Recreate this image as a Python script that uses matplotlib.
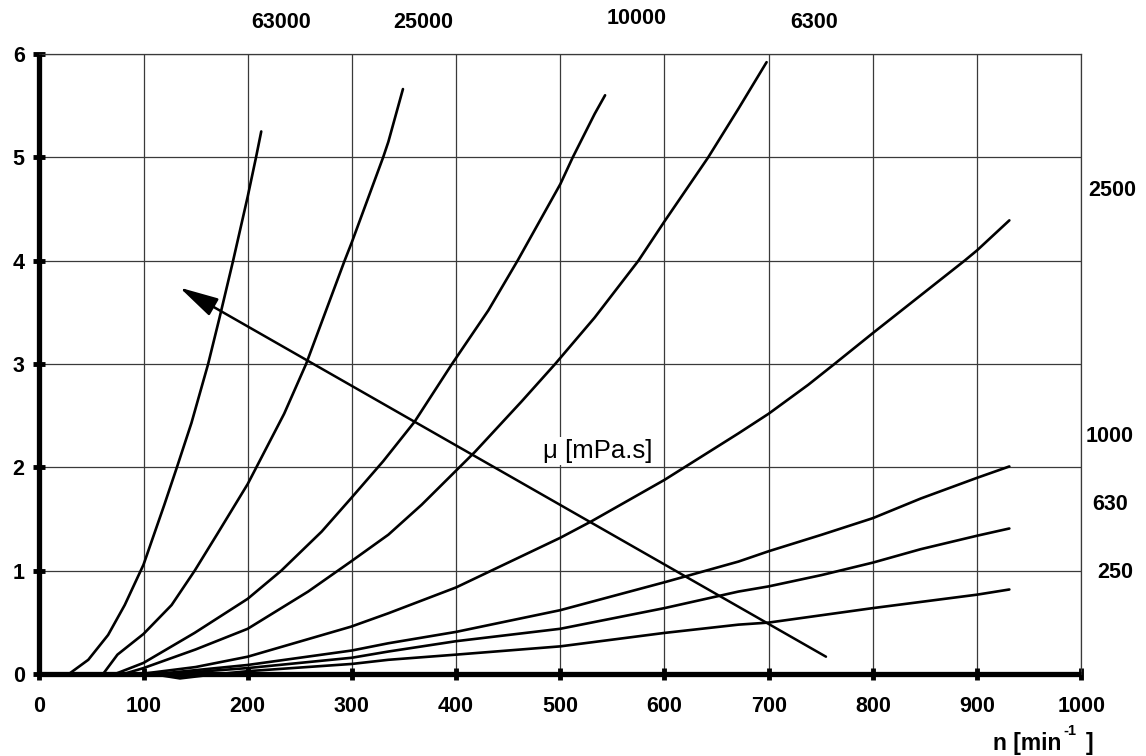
import numpy as np
from matplotlib import pyplot as plt

plt.rcParams['font.family'] = ['Liberation Sans', 'DejaVu Sans']

# speed n [min-1] and reading for each viscosity
n_63000 = [28, 47, 66, 82, 100, 120, 132, 146, 162, 173, 186, 200, 208, 213]
p_63000 = [0, 0.14, 0.38, 0.67, 1.06, 1.64, 2.0, 2.43, 3.0, 3.45, 4.0, 4.62, 5.0, 5.25]

n_25000 = [61, 75, 100, 127, 149, 171, 200, 235, 256, 293, 300, 330, 335, 349]
p_25000 = [0, 0.19, 0.39, 0.67, 1.0, 1.36, 1.84, 2.52, 3.0, 4.0, 4.18, 5.0, 5.15, 5.66]

n_10000 = [72, 100, 149, 200, 232, 271, 299, 330, 360, 396, 431, 459, 500, 512, 533, 543]
p_10000 = [0, 0.11, 0.40, 0.73, 1.0, 1.38, 1.70, 2.06, 2.44, 3.0, 3.52, 4.0, 4.74, 5.0, 5.42, 5.6]

n_6300 = [80, 100, 150, 200, 258, 299, 335, 367, 400, 418, 463, 495, 533, 575, 600, 642, 671, 698]
p_6300 = [0, 0.06, 0.24, 0.44, 0.80, 1.09, 1.35, 1.64, 1.97, 2.15, 2.64, 3.0, 3.45, 4.0, 4.38, 5.0, 5.47, 5.92]

n_2500 = [95, 150, 200, 299, 335, 400, 500, 530, 600, 671, 700, 738, 763, 800, 888, 900, 931]
p_2500 = [0, 0.07, 0.17, 0.46, 0.59, 0.84, 1.32, 1.48, 1.88, 2.33, 2.52, 2.80, 3.0, 3.30, 4.0, 4.10, 4.39]

n_1000 = [110, 200, 300, 335, 400, 500, 600, 671, 700, 751, 800, 846, 900, 931]
p_1000 = [0, 0.09, 0.23, 0.30, 0.41, 0.62, 0.89, 1.09, 1.19, 1.35, 1.51, 1.70, 1.90, 2.01]

n_630 = [120, 200, 300, 335, 400, 500, 600, 671, 700, 751, 800, 846, 900, 931]
p_630 = [0, 0.06, 0.16, 0.22, 0.32, 0.44, 0.64, 0.80, 0.85, 0.96, 1.08, 1.21, 1.34, 1.41]

n_250 = [110, 135, 160, 200, 300, 335, 400, 500, 600, 671, 700, 800, 900, 931]
p_250 = [0, -0.04, -0.01, 0.03, 0.10, 0.14, 0.19, 0.27, 0.40, 0.48, 0.50, 0.64, 0.77, 0.82]

curves = [(n_63000, p_63000), (n_25000, p_25000), (n_10000, p_10000), (n_6300, p_6300),
          (n_2500, p_2500), (n_1000, p_1000), (n_630, p_630), (n_250, p_250)]

# curve labels and where they sit (figure pixels)
label_text = ['63000', '25000', '10000', '6300', '2500', '1000', '630', '250']
label_px = [(281, 23), (423, 23), (637, 18), (814, 23), (1112, 191), (1110, 437), (1110, 505), (1115, 572)]

x_ticks = list(range(0, 1001, 100))
y_ticks = [0, 1, 2, 3, 4, 5, 6]

W, H = 1146, 756
fig = plt.figure(figsize=(W / 100, H / 100), dpi=100)
ax = fig.add_axes([0.0343, 0.1081, 0.9092, 0.8206])

ax.set_xlim(0, 1000)
ax.set_ylim(0, 6)
ax.set_xticks(x_ticks)
ax.set_yticks(y_ticks)
ax.grid(True, color='#3a3a3a', lw=0.9)
ax.set_axisbelow(True)

for s in ['top', 'right']:
    ax.spines[s].set_color('#3a3a3a')
    ax.spines[s].set_linewidth(0.9)
for s in ['left', 'bottom']:
    ax.spines[s].set_color('black')
    ax.spines[s].set_linewidth(3.8)
    ax.spines[s].set_zorder(5)
    ax.spines[s].set_capstyle('butt')

ax.tick_params(axis='both', direction='inout', length=9, width=3.5, color='black',
               labelsize=15.5)
ax.tick_params(axis='x', pad=11)
ax.tick_params(axis='y', pad=6)
for lab in ax.get_xticklabels() + ax.get_yticklabels():
    lab.set_fontweight('bold')

for n, p in curves:
    ax.plot(n, p, color='black', lw=1.9, clip_on=False, zorder=3,
            solid_joinstyle='round', solid_capstyle='round')

ax.annotate('', xy=(134.7, 3.74), xytext=(755, 0.17),
            arrowprops=dict(arrowstyle='-|>,head_length=2.4,head_width=0.6',
                            color='black', lw=1.8, shrinkA=0, shrinkB=0), zorder=4)

ax.text(536, 2.16, 'μ [mPa.s]', fontsize=18.5, ha='center', va='center', zorder=4,
        bbox=dict(facecolor='white', edgecolor='none', pad=1.5))

for t, (px, py) in zip(label_text, label_px):
    fig.text(px / W, 1 - py / H, t, fontsize=15.5, fontweight='bold', ha='center', va='center')

# axis title n [min-1 ] with a raised -1
fig.text(1061 / W, 1 - 750 / H, 'n [min', fontsize=16.5, fontweight='bold',
         ha='right', va='baseline')
fig.text(1063 / W, 1 - 735 / H, '-1', fontsize=10.5, fontweight='bold',
         ha='left', va='baseline')
fig.text(1093 / W, 1 - 750 / H, ']', fontsize=16.5, fontweight='bold',
         ha='right', va='baseline')

fig.savefig('out.png', dpi=100)
